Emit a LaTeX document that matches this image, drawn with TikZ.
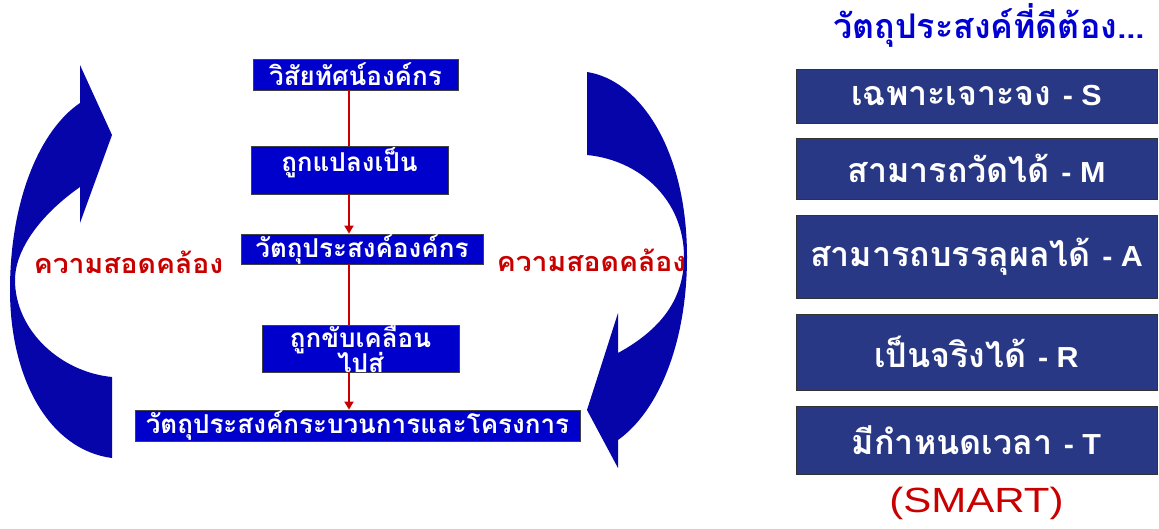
\documentclass[tikz,border=0pt]{standalone}
\usepackage{fontspec}
\setmainfont{Liberation Sans}
\newfontfamily\thai[Script=Thai]{Loma}
\newfontfamily\thaiw[Script=Thai,FakeStretch=1.05]{Loma}
\newfontfamily\lat[FakeStretch=1.2]{Liberation Sans}
\newfontfamily\latb[FakeStretch=1.05]{Liberation Sans}
\usetikzlibrary{arrows.meta}
\definecolor{arrowblue}{RGB}{5,5,170}
\definecolor{flowblue}{RGB}{0,0,205}
\definecolor{navybox}{RGB}{40,56,132}
\definecolor{darkred}{RGB}{200,0,0}
\definecolor{headblue}{RGB}{0,0,210}
\tikzset{
  flowbox/.style={fill=flowblue, draw=black!75, line width=0.8pt, inner sep=0pt},
  flowtext/.style={text=white, font=\thai\bfseries\fontsize{26}{20}\selectfont, align=center, inner sep=0pt},
  smartbox/.style={fill=navybox, draw=black!80, line width=0.8pt, minimum width=361pt, inner sep=0pt,
     text=white, font=\thai\bfseries\fontsize{34}{36}\selectfont},
  redlabel/.style={text=darkred, font=\thaiw\bfseries\fontsize{27}{29}\selectfont, inner sep=0pt},
  flowarrow/.style={draw=darkred, line width=1.8pt},
  flowarrowhead/.style={flowarrow, -{Triangle[length=8pt,width=9pt]}},
}
\newcommand{\smartletter}[1]{{\latb\bfseries\fontsize{29}{31}\selectfont #1}}
\begin{document}
\begin{tikzpicture}[x=1pt,y=-1pt]
\useasboundingbox (0,0) rectangle (1159,528);
% curved blue arrows
\fill[arrowblue] (80,65) -- (112,135) -- (80,223) -- (80,187)
  .. controls (40,215) and (15,250) .. (15,280)
  .. controls (15,330) and (60,372) .. (112,377) -- (112,458)
  .. controls (50,450) and (10,380) .. (10,290)
  .. controls (10,200) and (40,130) .. (80,103) -- cycle;
\fill[arrowblue] (587,72) .. controls (640,80) and (687,150) .. (687,257)
  .. controls (687,340) and (660,410) .. (618,440) -- (618,468) -- (587,410)
  -- (618,313) -- (618,353)
  .. controls (660,330) and (684,300) .. (684,257)
  .. controls (684,200) and (640,160) .. (587,155) -- cycle;
% flow boxes
\node[flowbox, minimum width=205pt, minimum height=31pt] (b1) at (355.5,74.5) {};
\node[flowtext] (t1) at (b1.center) {วิสัยทัศน์องค์กร};
\node[flowbox, minimum width=197pt, minimum height=48pt] (b2) at (349.5,170) {};
\node[flowtext] (t2) at (349.5,163) {ถูกแปลงเป็น};
\node[flowbox, minimum width=197pt, minimum height=47pt] (b4) at (360.5,348.5) {};
\node[flowtext] (t4) at (360.5,350) {ถูกขับเคลื่อน\\[-2pt]ไปสู่};
\node[flowbox, minimum width=242pt, minimum height=30pt] (b3) at (362,249) {};
\node[flowtext] (t3) at (b3.center) {วัตถุประสงค์องค์กร};
\node[flowbox, minimum width=445pt, minimum height=31pt] (b5) at (357.5,425.5) {};
\node[flowtext] (t5) at (b5.center) {วัตถุประสงค์กระบวนการและโครงการ};
\coordinate (ax) at (349,0);
\draw[flowarrow] (b1.south -| ax) -- (b2.north -| ax);
\draw[flowarrowhead] (b2.south -| ax) -- (b3.north -| ax);
\draw[flowarrow] (b3.south -| ax) -- (b4.north -| ax);
\draw[flowarrowhead] (b4.south -| ax) -- (b5.north -| ax);
% red labels
\node[redlabel] (l1) at (128.5,262) {ความสอดคล้อง};
\node[redlabel] (l2) at (591.5,260) {ความสอดคล้อง};
% right side
\node[text=headblue, font=\thai\bfseries\fontsize{34}{36}\selectfont, inner sep=0pt] (head) at (989.5,25) {วัตถุประสงค์ที่ดีต้อง...};
\node[smartbox, minimum height=54pt] (s) at (976.5,96) {เฉพาะเจาะจง \smartletter{- S}};
\node[smartbox, minimum height=61pt] (m) at (976.5,168.5) {สามารถวัดได้ \smartletter{- M}};
\node[smartbox, minimum height=83pt] (a) at (976.5,256.5) {สามารถบรรลุผลได้ \smartletter{- A}};
\node[smartbox, minimum height=76pt] (r) at (976.5,352) {เป็นจริงได้ \smartletter{- R}};
\node[smartbox, minimum height=68pt] (t) at (976.5,440) {มีกำหนดเวลา \smartletter{- T}};
\node[text=darkred, font=\lat\fontsize{35}{38}\selectfont, inner sep=0pt] (smart) at (976.5,503) {(SMART)};
\end{tikzpicture}
\end{document}
